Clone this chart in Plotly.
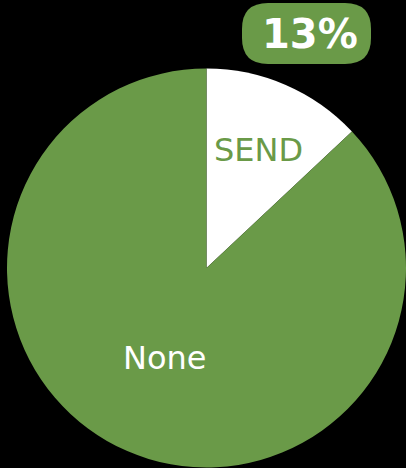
import plotly.graph_objects as go

labels = ["SEND", "None"]
values = [13, 87]
badge_text = "13%"

green = "#6a9a48"
W, H = 406, 468


def px(x, y):
    # pixel -> paper coords (margins are zero)
    return x / W, 1 - y / H


def rounded_rect(x0, y0, x1, y1, r):
    pts = []
    a = px(x0 + r, y0); pts.append(f"M{a[0]},{a[1]}")
    b = px(x1 - r, y0); pts.append(f"L{b[0]},{b[1]}")
    c = px(x1, y0); d = px(x1, y0 + r); pts.append(f"Q{c[0]},{c[1]} {d[0]},{d[1]}")
    e = px(x1, y1 - r); pts.append(f"L{e[0]},{e[1]}")
    f = px(x1, y1); g = px(x1 - r, y1); pts.append(f"Q{f[0]},{f[1]} {g[0]},{g[1]}")
    h = px(x0 + r, y1); pts.append(f"L{h[0]},{h[1]}")
    i = px(x0, y1); j = px(x0, y1 - r); pts.append(f"Q{i[0]},{i[1]} {j[0]},{j[1]}")
    k = px(x0, y0 + r); pts.append(f"L{k[0]},{k[1]}")
    l = px(x0, y0); pts.append(f"Q{l[0]},{l[1]} {a[0]},{a[1]}Z")
    return " ".join(pts)


fig = go.Figure(go.Pie(
    labels=labels,
    values=values,
    sort=False,
    direction="clockwise",
    rotation=0,
    marker=dict(colors=["white", green], line=dict(width=0)),
    textinfo="none",
    domain=dict(x=[7 / W, 1], y=[0, 400 / H]),
    showlegend=False,
    hoverinfo="skip",
))

# slice labels, placed where the reference puts them
label_pos = [(258, 150), (164, 358)]
label_colors = [green, "white"]
for name, (lx, ly), col in zip(labels, label_pos, label_colors):
    ax, ay = px(lx, ly)
    fig.add_annotation(x=ax, y=ay, xref="paper", yref="paper", text=name,
                       xanchor="center", yanchor="middle", showarrow=False,
                       font=dict(color=col, size=32, family="DejaVu Sans"))

fig.add_shape(type="path", xref="paper", yref="paper",
              path=rounded_rect(242, 3, 371, 64, 26),
              fillcolor=green, line=dict(width=0), layer="above")
bx, by = px(310, 34)
fig.add_annotation(x=bx, y=by, xref="paper", yref="paper", text=badge_text,
                   xanchor="center", yanchor="middle", showarrow=False,
                   font=dict(color="white", size=40, family="DejaVu Sans", weight="bold"))

fig.update_layout(
    width=W, height=H,
    margin=dict(l=0, r=0, t=0, b=0),
    paper_bgcolor="black",
    plot_bgcolor="black",
    font=dict(family="DejaVu Sans"),
)

fig.write_html("out.html", config={"displayModeBar": False},
               post_script="document.body.style.margin='0';document.body.style.background='black';")
